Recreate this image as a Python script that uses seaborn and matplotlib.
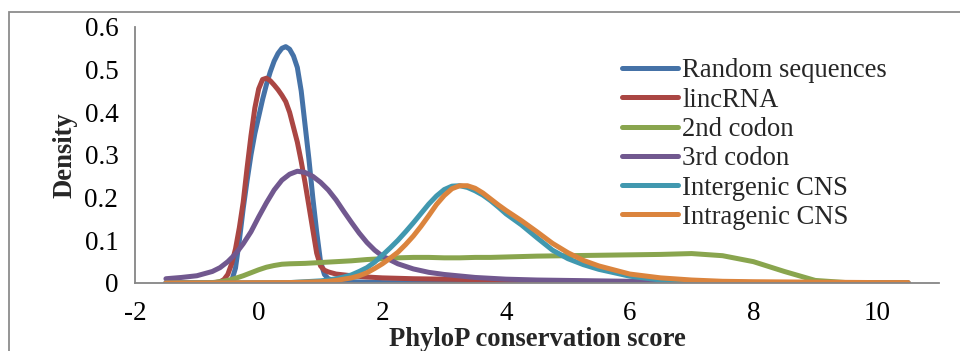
import matplotlib
matplotlib.use("Agg")
import matplotlib.pyplot as plt
from matplotlib.patches import Rectangle
import pandas as pd
import seaborn as sns

# Density curves of PhyloP conservation scores, one (score, density) pair of lists per set
random_x = [-1.5, -0.625, -0.5, -0.4375, -0.375, -0.3125, -0.25, -0.1875, -0.125, -0.0625,
            0.0, 0.0625, 0.125, 0.1875, 0.25, 0.3125, 0.375, 0.4375, 0.5, 0.5625,
            0.625, 0.6875, 0.75, 0.8125, 0.875, 0.9375, 1.0, 1.0625, 1.125, 1.25,
            1.5, 2.0, 3.0, 10.5]
random_y = [0, 0, 0, 0.005, 0.035, 0.10, 0.175, 0.24, 0.30, 0.35,
            0.39, 0.43, 0.465, 0.495, 0.52, 0.538, 0.55, 0.554, 0.548, 0.532,
            0.505, 0.45, 0.37, 0.29, 0.20, 0.12, 0.05, 0.02, 0.01, 0.005,
            0.003, 0.001, 0, 0]

lincrna_x = [-1.5, -0.75, -0.625, -0.5625, -0.5, -0.4375, -0.375, -0.3125, -0.25, -0.1875,
             -0.125, -0.0625, 0.0, 0.0625, 0.125, 0.1875, 0.25, 0.3125, 0.375, 0.4375,
             0.5, 0.5625, 0.625, 0.6875, 0.75, 0.8125, 0.875, 0.9375, 1.0, 1.0625,
             1.125, 1.25, 1.5, 1.75, 2.0, 2.5, 3.0, 3.5, 4.0, 4.5,
             5.0, 6.0, 7.0, 8.0, 10.5]
lincrna_y = [0, 0, 0.003, 0.008, 0.02, 0.045, 0.08, 0.13, 0.19, 0.27,
             0.345, 0.41, 0.455, 0.477, 0.48, 0.474, 0.464, 0.453, 0.44, 0.425,
             0.40, 0.365, 0.33, 0.285, 0.235, 0.18, 0.125, 0.07, 0.04, 0.03,
             0.026, 0.021, 0.017, 0.014, 0.012, 0.010, 0.009, 0.008, 0.006, 0.005,
             0.004, 0.002, 0.001, 0, 0]

codon2_x = [-1.5, -1.0, -0.75, -0.625, -0.5, -0.375, -0.25, -0.125, 0.0, 0.125,
            0.25, 0.375, 0.5, 0.75, 1.0, 1.25, 1.5, 1.75, 2.0, 2.25,
            2.5, 2.75, 3.0, 3.25, 3.5, 3.75, 4.0, 4.5, 5.0, 5.5,
            6.0, 6.5, 7.0, 7.5, 8.0, 8.5, 9.0, 9.5, 10.0, 10.5]
codon2_y = [0, 0, 0.001, 0.003, 0.006, 0.011, 0.017, 0.024, 0.031, 0.037,
            0.041, 0.044, 0.045, 0.046, 0.048, 0.050, 0.052, 0.055, 0.057, 0.059,
            0.060, 0.060, 0.059, 0.059, 0.060, 0.060, 0.061, 0.063, 0.064, 0.065,
            0.066, 0.067, 0.069, 0.064, 0.050, 0.027, 0.006, 0.001, 0, 0]

codon3_x = [-1.5, -1.25, -1.0, -0.75, -0.625, -0.5, -0.375, -0.25, -0.125, 0.0,
            0.125, 0.25, 0.375, 0.5, 0.625, 0.75, 0.875, 1.0, 1.125, 1.25,
            1.375, 1.5, 1.625, 1.75, 1.875, 2.0, 2.25, 2.5, 2.75, 3.0,
            3.5, 4.0, 4.5, 5.0, 6.0, 7.0, 8.0, 9.0, 10.5]
codon3_y = [0.010, 0.013, 0.017, 0.027, 0.036, 0.050, 0.068, 0.092, 0.12, 0.155,
            0.188, 0.218, 0.241, 0.255, 0.262, 0.259, 0.250, 0.236, 0.218, 0.195,
            0.168, 0.142, 0.117, 0.095, 0.077, 0.063, 0.045, 0.033, 0.025, 0.020,
            0.013, 0.009, 0.007, 0.006, 0.004, 0.003, 0.001, 0, 0]

cns_x = [-1.5, 0.5, 0.75, 1.0, 1.125, 1.25, 1.375, 1.5, 1.625, 1.75,
         1.875, 2.0, 2.125, 2.25, 2.375, 2.5, 2.625, 2.75, 2.875, 3.0,
         3.125, 3.25, 3.375, 3.5, 3.625, 3.75, 3.875, 4.0, 4.25, 4.5,
         4.75, 5.0, 5.25, 5.5, 6.0, 6.5, 7.0, 7.5, 8.0, 9.0,
         10.0, 10.5]
intergenic_y = [0, 0.001, 0.003, 0.005, 0.007, 0.010, 0.014, 0.019, 0.027, 0.036,
                0.049, 0.065, 0.082, 0.100, 0.120, 0.141, 0.163, 0.185, 0.204, 0.219,
                0.227, 0.228, 0.224, 0.216, 0.206, 0.193, 0.178, 0.162, 0.136, 0.106,
                0.077, 0.057, 0.043, 0.032, 0.016, 0.007, 0.003, 0.002, 0.001, 0,
                0, 0]
intragenic_y = [0, 0.001, 0.002, 0.003, 0.004, 0.006, 0.009, 0.012, 0.017, 0.024,
                0.034, 0.045, 0.058, 0.072, 0.090, 0.110, 0.133, 0.158, 0.184, 0.205,
                0.221, 0.228, 0.228, 0.222, 0.211, 0.197, 0.183, 0.170, 0.146, 0.120,
                0.093, 0.071, 0.053, 0.040, 0.021, 0.012, 0.007, 0.004, 0.003, 0.002,
                0.001, 0.001]

series_names = ["Random sequences", "lincRNA", "2nd codon", "3rd codon",
                "Intergenic CNS", "Intragenic CNS"]
series_xy = [(random_x, random_y), (lincrna_x, lincrna_y), (codon2_x, codon2_y),
             (codon3_x, codon3_y), (cns_x, intergenic_y), (cns_x, intragenic_y)]
series_colors = ["#4572A7", "#AA4643", "#89A54E", "#71588F", "#4198AF", "#DB843D"]

x_ticks = [-2, 0, 2, 4, 6, 8, 10]
y_ticks = [0, 0.1, 0.2, 0.3, 0.4, 0.5, 0.6]

frames = [pd.DataFrame({"score": xs, "density": ys, "set": name})
          for name, (xs, ys) in zip(series_names, series_xy)]
df = pd.concat(frames, ignore_index=True)

sns.set_theme(style="white")
plt.rcParams["font.family"] = ["Liberation Serif", "DejaVu Serif"]
plt.rcParams["axes.unicode_minus"] = False

LW = 3.6
FS = 19.2

fig = plt.figure(figsize=(9.6, 3.51), dpi=100)
ax = fig.add_axes([135 / 960, 1 - 283 / 351, (939 - 135) / 960, (283 - 27) / 351])

sns.lineplot(data=df, x="score", y="density", hue="set", hue_order=series_names,
             palette=series_colors, estimator=None, sort=False, linewidth=LW,
             ax=ax, legend=False)
for line in ax.lines:
    line.set_solid_capstyle("round")
    line.set_solid_joinstyle("round")

ax.set_xlim(-2, 11)
ax.set_ylim(0, 0.6)
ax.set_xticks(x_ticks)
ax.set_xticklabels([str(t) for t in x_ticks])
ax.set_yticks(y_ticks)
ax.set_yticklabels(["0"] + [f"{t:.1f}" for t in y_ticks[1:]])

gray = "#868686"
for side in ["top", "right"]:
    ax.spines[side].set_visible(False)
for side in ["left", "bottom"]:
    ax.spines[side].set_color(gray)
    ax.spines[side].set_linewidth(1.3)
ax.tick_params(axis="both", direction="out", length=6, width=1.3, color=gray,
               labelsize=19.5, labelcolor="black")
ax.tick_params(axis="y", pad=6)
ax.tick_params(axis="x", pad=7)

ax.set_xlabel("PhyloP conservation score", fontsize=FS, fontweight="bold", labelpad=1)
ax.set_ylabel("Density", fontsize=FS, fontweight="bold", labelpad=5)

handles = [plt.Line2D([], [], color=c, linewidth=LW, solid_capstyle="round")
           for c in series_colors]
ax.legend(handles, series_names, loc="upper left", bbox_to_anchor=(0.606, 0.877),
          frameon=False, fontsize=FS, handlelength=2.1, handletextpad=0.15,
          labelspacing=0.16, borderpad=0, borderaxespad=0)

# chart-area border
fig.patches.append(Rectangle((9 / 960, -0.5), 2.0, 1 - 11.5 / 351 + 0.5,
                             transform=fig.transFigure, fill=False,
                             edgecolor="#8c8c8c", linewidth=1.3))

fig.savefig("out.png", dpi=100)
